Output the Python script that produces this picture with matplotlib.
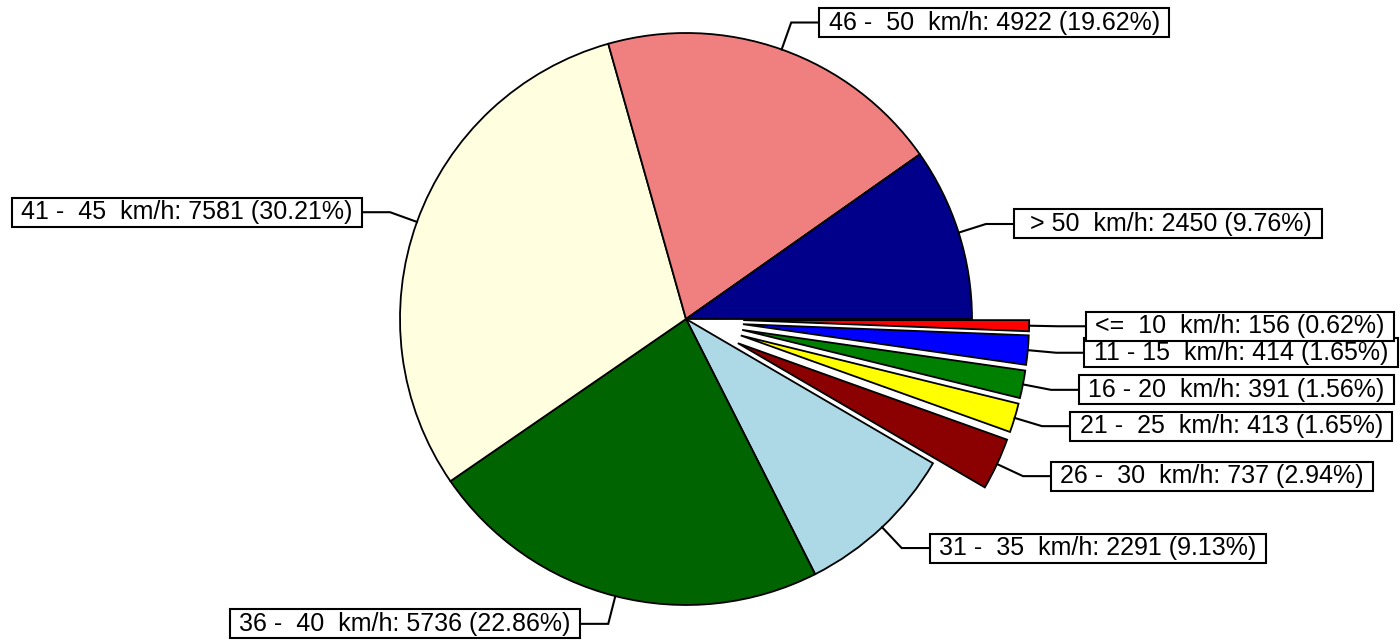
import numpy as np
import matplotlib
matplotlib.use("Agg")
import matplotlib.pyplot as plt

plt.rcParams['font.family'] = ['Liberation Sans', 'DejaVu Sans']

# speed classes, clockwise from east
categories = ["<=  10", "11 - 15", "16 - 20", "21 -  25", "26 -  30",
              "31 -  35", "36 -  40", "41 -  45", "46 -  50", " > 50"]
counts = [156, 414, 391, 413, 737, 2291, 5736, 7581, 4922, 2450]
colors = ["red", "blue", "green", "yellow", "darkred",
          "lightblue", "darkgreen", "lightyellow", "lightcoral", "darkblue"]
exploded = [True, True, True, True, True, False, False, False, False, False]

W, H = 1400, 640
cx, cy, R = 686, 319, 286   # pie centre / radius in pixels
expl = 0.2                  # explode, in radius units
elbow = 1.1                 # leader elbow, in radius units
fs = 18
pad = 0.1
gap = (28 + pad * fs * 100 / 72) / R   # elbow -> text anchor

fig = plt.figure(figsize=(W / 100, H / 100), dpi=100)
ax = fig.add_axes([0, 0, 1, 1])

explode = [expl if e else 0 for e in exploded]
wedges, _ = ax.pie(counts, colors=colors, explode=explode, startangle=0,
                   counterclock=True, radius=1, center=(0, 0), frame=True,
                   wedgeprops=dict(edgecolor="black", linewidth=1.3))

# y axis inverted so the pie runs clockwise on screen
ax.set_xlim(-cx / R, (W - cx) / R)
ax.set_ylim((H - cy) / R, -cy / R)
ax.set_aspect("equal")
ax.axis("off")

total = sum(counts)
n = len(counts)
for i, (w, cat, v) in enumerate(zip(wedges, categories, counts)):
    th = np.deg2rad((w.theta1 + w.theta2) / 2)
    ox, oy = w.center
    px, py = ox + np.cos(th), oy + np.sin(th)
    ex, ey = ox + elbow * np.cos(th), oy + elbow * np.sin(th)
    if np.cos(th) >= 0:
        tx, ha = ex + gap, "left"
    else:
        tx, ha = ex - gap, "right"
    ax.plot([px, ex, tx], [py, ey, ey], color="black", lw=1.5,
            solid_joinstyle="miter", zorder=5)
    label = f" {cat}  km/h: {v} ({v / total * 100:.2f}%) "
    ax.text(tx, ey, label, ha=ha, va="center", fontsize=fs, zorder=10 + n - i,
            bbox=dict(boxstyle=f"square,pad={pad}", fc="white", ec="black", lw=1.5))

fig.savefig("out.png", dpi=100)
